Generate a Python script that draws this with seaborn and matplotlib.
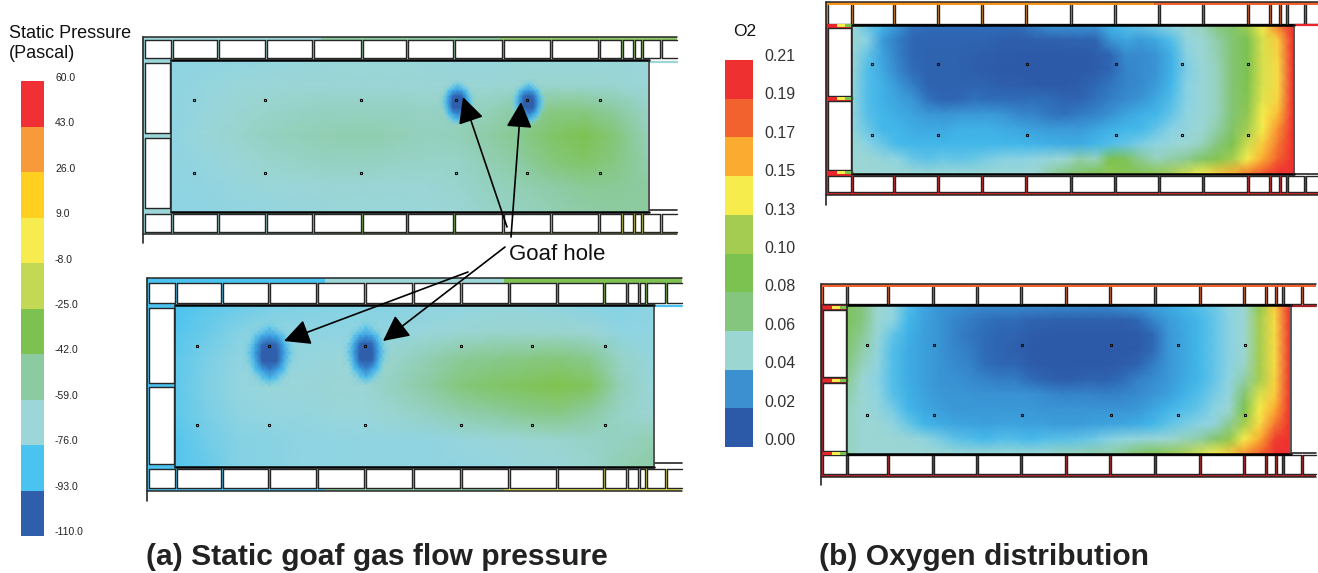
import numpy as np
import matplotlib
matplotlib.use("Agg")
import matplotlib.pyplot as plt
from matplotlib.colors import LinearSegmentedColormap, ListedColormap, Normalize
from matplotlib.patches import Rectangle
import seaborn as sns

W, H = 1318, 573

# colour keys, top to bottom
pressure_ticks = ["60.0", "43.0", "26.0", "9.0", "-8.0", "-25.0", "-42.0", "-59.0", "-76.0", "-93.0", "-110.0"]
pressure_colors = ["#F03035", "#F69A3A", "#FFD01F", "#F6EC4F", "#C3D955", "#7DC250", "#8CCBA1", "#9CD6D8", "#4AC3F0", "#2F5EAB"]
o2_ticks = ["0.21", "0.19", "0.17", "0.15", "0.13", "0.10", "0.08", "0.06", "0.04", "0.02", "0.00"]
o2_colors = ["#EE3030", "#F2622E", "#FBAC30", "#F6EC4C", "#A3CC50", "#7CC250", "#85C67F", "#9CD6D3", "#3C90D0", "#2D5AA8"]

# static pressure, Pascal
pressure_top = [
    [-72, -72, -71, -70, -69, -68, -68, -68, -68, -69, -69, -68, -68, -68, -68, -68],
    [-72, -70, -68, -67, -66, -66, -66, -66, -66, -66, -66, -65, -64, -64, -65, -67],
    [-72, -69, -66, -63, -61, -60, -60, -60, -61, -60, -57, -50, -44, -44, -50, -62],
    [-72, -68, -64, -60, -57, -55, -54, -56, -59, -57, -52, -46, -38, -33, -42, -58],
    [-72, -70, -67, -64, -62, -60, -60, -61, -62, -62, -56, -50, -42, -38, -44, -54],
    [-72, -71, -69, -68, -67, -66, -66, -66, -66, -64, -60, -56, -52, -48, -48, -50],
    [-72, -72, -71, -70, -69, -68, -68, -68, -67, -66, -62, -60, -56, -52, -50, -50],
]
pressure_bottom = [
    [-86, -82, -79, -76, -75, -74, -74, -73, -72, -71, -70, -70, -71, -73, -74, -72],
    [-84, -79, -74, -72, -72, -72, -72, -70, -68, -66, -64, -64, -64, -66, -72, -72],
    [-82, -76, -71, -68, -70, -68, -67, -62, -55, -48, -46, -44, -42, -46, -62, -70],
    [-82, -75, -70, -68, -68, -66, -66, -58, -50, -42, -38, -36, -32, -36, -58, -68],
    [-82, -76, -72, -70, -70, -68, -68, -64, -60, -54, -50, -46, -44, -50, -62, -66],
    [-84, -78, -74, -73, -72, -72, -71, -71, -71, -69, -68, -66, -64, -62, -60, -56],
    [-84, -80, -74, -73, -72, -72, -71, -71, -71, -71, -70, -68, -67, -64, -56, -52],
]
# pressure around one goaf hole
hole_pressure = [
    [-70, -70, -70, -70, -70, -70, -70, -70, -70],
    [-70, -70, -70, -74, -78, -74, -70, -70, -70],
    [-70, -70, -78, -86, -90, -86, -78, -70, -70],
    [-70, -74, -86, -98, -103, -98, -86, -74, -70],
    [-70, -76, -90, -104, -110, -104, -90, -76, -70],
    [-70, -74, -86, -100, -106, -100, -86, -74, -70],
    [-70, -70, -80, -90, -95, -90, -80, -70, -70],
    [-70, -70, -72, -78, -84, -78, -72, -70, -70],
    [-70, -70, -70, -70, -72, -70, -70, -70, -70],
]

# oxygen, in 0.01 units
o2_top = [
    [5, 3.5, 3, 2, 1.2, 1, 1, 1, 1, 1, 1, 1, 1.5, 2, 2, 2, 2, 3, 3.2, 3.5, 3.8, 4.5, 5, 5.5, 7, 8, 11, 13, 17, 21],
    [5, 4, 2.2, 1.4, .8, .6, .6, .6, .6, .5, .3, .3, .4, .4, .5, .6, .6, 2, 2.5, 2.2, 2.6, 3.2, 4.5, 5, 6, 7.5, 9, 12.3, 14, 21],
    [5, 3.5, 2.4, 1.5, .8, .5, .5, .5, .4, .3, .1, .1, 0, 0, 0, 0, .2, .8, 1.8, 1.8, 2, 2.8, 4, 5, 5.8, 7.5, 9, 12.3, 13.7, 21],
    [5, 3.2, 2.6, 1.7, 1, .5, .5, .5, .3, .1, 0, 0, 0, 0, 0, 0, .2, .8, 1.6, 1.8, 2, 2.8, 3.8, 4.8, 5.5, 7.5, 9, 12.3, 13.5, 21],
    [4.5, 3.2, 2.8, 2.1, 1.4, .5, .5, .5, .6, .5, .3, .2, .1, 0, 0, .3, .8, 1.3, 1.6, 1.8, 2.2, 3, 4, 4.8, 5.5, 7.5, 9.2, 12.3, 13.5, 21],
    [4.5, 3.2, 2.8, 2.4, 2, 1.2, .6, .8, 1.2, 1, 1, 1, 1.1, 1, .6, .6, 1.2, 1.5, 1.8, 2, 2.6, 3.2, 4, 4.8, 5.5, 7.5, 9.5, 12.5, 13.7, 21],
    [4.5, 3.3, 3, 2.7, 2.4, 2.1, 2, 2.1, 2.1, 2.2, 2, 1.7, 1.6, 1.3, 1.2, 1.4, 1.6, 1.9, 2.4, 2.8, 3, 3.5, 4.2, 4.8, 5.5, 7.5, 10, 13, 14.5, 21],
    [4.5, 3.6, 3, 3, 2.7, 2.6, 2.6, 2.8, 2.8, 2.8, 2.7, 2.5, 2.3, 2.2, 2.2, 2.2, 2.5, 2.8, 3, 3.1, 3.5, 4, 4.5, 5, 6, 8, 11, 13, 16, 21],
    [5, 4, 3.6, 3.1, 3, 3, 3, 3, 3, 3, 3, 3, 2.9, 2.8, 2.7, 2.7, 3, 3.2, 3.5, 3.8, 4.2, 4.6, 5, 5.5, 7, 9, 12, 14, 17, 21],
    [5, 5, 4.5, 4.2, 3.6, 3.4, 3.6, 3.5, 3.6, 3.8, 4, 4, 4.3, 4.6, 5, 6, 5.5, 9, 8.5, 6.5, 5.5, 6, 6.5, 8, 9.5, 11, 13, 15, 18, 21],
    [5, 5, 5, 5, 5, 5, 5, 5, 5, 5, 5, 5, 5, 6, 7, 8, 9, 10, 9.5, 9.5, 10, 11, 12, 13, 14, 15, 17, 19, 21, 21],
]
o2_bottom = [
    [8, 7, 5, 4.5, 3.2, 2.5, 2, 1.9, 1.8, 1.8, 1.8, 1.8, 1.8, 1.8, 1.8, 1.8, 1.8, 1.8, 2, 2.2, 2.4, 2.6, 3, 3.3, 3.6, 4.2, 5, 10, 14, 21],
    [8.5, 7, 5, 4.2, 3, 2.4, 2, 1.7, 1.4, 1.2, 1, 1, .6, .5, .4, .4, .4, .4, .4, .8, 1.6, 2.2, 2.6, 3, 3.5, 4, 5, 11, 13.5, 21],
    [8, 6.5, 4.8, 3.5, 2.8, 2.3, 2, 1.6, 1.3, 1, .7, .6, .2, .1, 0, 0, 0, 0, 0, .1, .8, 2, 2.5, 3, 3.5, 4, 5, 11, 13.5, 21],
    [7.5, 6, 4.5, 3.2, 2.7, 2.3, 2, 1.7, 1.4, 1, .6, .4, .1, 0, 0, 0, 0, 0, 0, .1, .9, 2, 2.5, 3, 3.5, 4, 5, 11, 13.5, 21],
    [7, 5.5, 4.3, 3.2, 2.7, 2.3, 2, 1.8, 1.6, 1.1, .8, .7, .2, 0, 0, 0, 0, 0, .2, .5, 1.4, 2, 2.5, 3, 3.5, 4, 5.2, 11, 13.5, 21],
    [6.5, 5, 4, 3.2, 2.7, 2.3, 2, 1.9, 1.8, 1.6, 1.4, 1.4, 1, .5, .3, .4, .5, .5, 1, 1.5, 1.8, 2.1, 2.6, 3, 3.5, 4.2, 6, 11, 13.7, 21],
    [6, 5, 4.2, 3.3, 2.8, 2.4, 2.1, 2, 2, 1.9, 1.9, 1.9, 1.9, 1.8, 1.6, 1.6, 1.6, 1.5, 1.6, 1.8, 2, 2.3, 2.8, 3.2, 3.7, 4.5, 7.5, 12.3, 14, 21],
    [5.5, 5, 4.5, 3.7, 3, 2.6, 2.3, 2.1, 2.1, 2.1, 2.1, 2.1, 2.1, 2, 2, 2, 2, 2, 2, 2.1, 2.5, 2.9, 3.2, 3.5, 4, 5, 9, 13, 15, 21],
    [5.5, 5, 5, 4.3, 3.6, 3, 2.7, 2.5, 2.4, 2.3, 2.4, 2.4, 2.3, 2.3, 2.2, 2.2, 2.3, 2.4, 2.5, 2.7, 3, 3.4, 3.7, 4, 4.5, 6.5, 11, 13.5, 17, 21],
    [5.5, 5, 5, 5, 4.8, 4.4, 3.8, 3.4, 3.2, 3.1, 3.2, 3.2, 3.1, 3.2, 3.3, 3.4, 3.6, 3.9, 4.2, 4.5, 4.8, 5, 5.5, 6, 7.5, 10, 13, 15, 20, 21],
    [5.5, 5, 5, 5, 5, 5, 5, 5, 5, 5, 5, 5, 5, 5, 5.5, 5.5, 6, 6, 6.5, 8, 9, 10, 11, 12, 13, 14, 16, 18, 21, 21],
]

# panel geometry in pixels of the original
panels = [
    dict(field=(171, 60, 648, 212), outer=(143, 677), top=(37, 40, 58), bottom=(214, 232, 234), tail=243,
         walls=[173, 219, 267, 314, 363, 408, 455, 504, 552, 600, 623, 635, 643, 662],
         side=[(63, 133), (138, 208)], right=(62, 210), strips=[],
         hx=[194, 265, 361, 456, 527, 600], hy=[100, 173], open_top=False,
         band_top=["#9CD6D8", "#8CCBA1", "#8FC86A"], band_bot=["#9CD6D8", "#7DC250", "#E0E050"], band_side="#9CD6D8"),
    dict(field=(175, 305, 653, 467), outer=(147, 682), top=(278, 283, 303), bottom=(469, 488, 491), tail=501,
         walls=[177, 223, 270, 318, 366, 414, 462, 510, 558, 605, 628, 640, 647, 667],
         side=[(308, 383), (387, 464)], right=(306, 463), strips=[],
         hx=[197, 269, 365, 461, 532, 605], hy=[346, 425], open_top=False,
         band_top=["#4AC3F0", "#9CD6D8", "#7DC250"], band_bot=["#4AC3F0", "#8CCBA1", "#E0E050"], band_side="#4AC3F0"),
    dict(field=(852, 25, 1293, 174), outer=(826, 1318), top=(2, 5, 24), bottom=(176, 192, 195), tail=205,
         walls=[853, 895, 939, 983, 1027, 1072, 1116, 1160, 1204, 1249, 1271, 1281, 1288, 1306],
         side=[(28, 96), (101, 170)], right=(25, 174), strips=[24, 97, 171],
         hx=[872, 938, 1027, 1116, 1182, 1248], hy=[64, 135], open_top=True,
         band_top=["#F7941E", "#F7941E", "#F2622E"], band_bot=["#E8262A", "#E8262A", "#E8262A"], band_side="#E8262A"),
    dict(field=(847, 305, 1290, 454), outer=(821, 1316), top=(284, 287, 304), bottom=(455, 474, 477), tail=485,
         walls=[848, 889, 934, 978, 1022, 1067, 1111, 1156, 1201, 1245, 1267, 1277, 1284, 1303],
         side=[(310, 377), (383, 451)], right=(306, 453), strips=[306, 379, 452],
         hx=[867, 934, 1022, 1111, 1178, 1245], hy=[345, 415], open_top=True,
         band_top=["#F2622E", "#F2622E", "#F2622E"], band_bot=["#C8232A", "#C8232A", "#C8232A"], band_side="#A52025"),
]
holes = [(439, 79, 476, 125), (510, 79, 547, 125), (241, 319, 298, 387), (342, 319, 390, 385)]
arrows = [((507, 227), (463, 97)), ((511, 237), (521, 102)), ((468, 272), (284, 341)), ((505, 247), (383, 341))]

sns.set_theme(style="white")
plt.rcParams["font.family"] = ["Liberation Sans", "DejaVu Sans"]

fig = plt.figure(figsize=(W / 100, H / 100), dpi=100, facecolor="white")


def px_axes(x0, y0, x1, y1, z=1):
    return fig.add_axes([x0 / W, 1 - y1 / H, (x1 - x0) / W, (y1 - y0) / H], zorder=z)


def field_map(values, box, cmap, norm, z=1):
    ax = px_axes(*box, z=z)
    values = np.array(values, dtype=float)
    sns.heatmap(values, ax=ax, cmap=cmap, norm=norm, cbar=False, xticklabels=False, yticklabels=False, shading="gouraud")
    ax.set_xlim(0, values.shape[1] - 1)
    ax.set_ylim(values.shape[0] - 1, 0)
    ax.patch.set_alpha(0)
    ax.axis("off")
    return ax


def colour_key(colors, box):
    ax = px_axes(*box)
    order = np.arange(len(colors)).reshape(-1, 1)
    sns.heatmap(order, ax=ax, cmap=ListedColormap(colors), cbar=False, xticklabels=False, yticklabels=False)
    ax.axis("off")


pressure_cmap = LinearSegmentedColormap.from_list("pressure", [
    ((v + 110) / 170, c) for v, c in [(-110, "#2F5EAB"), (-100, "#2F5EAB"), (-86, "#4AC3F0"), (-72, "#8FD4E2"), (-67, "#9CD6D8"),
                                       (-50, "#8CCBA1"), (-33, "#7DC250"), (-16, "#C3D955"), (0, "#F6EC4F"), (17, "#FFD01F"),
                                       (34, "#F69A3A"), (60, "#F03035")]])
pressure_norm = Normalize(-110, 60)
o2_cmap = LinearSegmentedColormap.from_list("o2", [
    (v / 21, c) for v, c in [(0, "#2D5AA8"), (1, "#2F6CB8"), (2, "#3A96D6"), (3, "#42B8EA"), (4, "#8CD3E3"), (5, "#9CD6D3"),
                              (7, "#85C67F"), (9, "#7CC250"), (11, "#A3CC50"), (13, "#F6EC4C"), (15, "#FBAC30"),
                              (18, "#F2622E"), (21, "#EE3030")]])
o2_norm = Normalize(0, 21)
hole_cmap = LinearSegmentedColormap.from_list("hole", [
    (0, "#2F5EAB"), (0.25, "#2F5EAB"), (0.5, "#3A9CE2"), (0.75, (0.29, 0.76, 0.94, 0.9)), (1, (0.55, 0.83, 0.87, 0))])
hole_norm = Normalize(-110, -70)

field_map(pressure_top, panels[0]["field"], pressure_cmap, pressure_norm)
field_map(pressure_bottom, panels[1]["field"], pressure_cmap, pressure_norm)
field_map(o2_top, panels[2]["field"], o2_cmap, o2_norm)
field_map(o2_bottom, panels[3]["field"], o2_cmap, o2_norm)
for box in holes:
    field_map(hole_pressure, box, hole_cmap, hole_norm, z=2)

colour_key(pressure_colors, (21, 81, 44, 536))
colour_key(o2_colors, (725, 60, 753, 447))

# everything else sits on one transparent canvas measured in pixels
canvas = px_axes(0, 0, W, H, z=5)
canvas.set_xlim(0, W)
canvas.set_ylim(H, 0)
canvas.patch.set_alpha(0)
canvas.axis("off")

DARK = "#262626"


def cell(x0, y0, x1, y1, open_top=False, open_right=False):
    canvas.add_patch(Rectangle((x0, y0), x1 - x0, y1 - y0, fc="white", ec="none", zorder=2))
    canvas.plot([x0, x0], [y0, y1], color=DARK, lw=1, zorder=2.5)
    canvas.plot([x0, x1], [y1, y1], color=DARK, lw=1, zorder=2.5)
    if not open_top:
        canvas.plot([x0, x1], [y0, y0], color=DARK, lw=1, zorder=2.5)
    if not open_right:
        canvas.plot([x1, x1], [y0, y1], color=DARK, lw=1, zorder=2.5)


def frame(p):
    fx0, fy0, fx1, fy1 = p["field"]
    ox0, ox1 = p["outer"]
    y_out, y_in, y_low = p["top"]
    by0, by1, by2 = p["bottom"]
    span = (ox1 - ox0) / 3
    # coloured channels behind the cells
    for i in range(3):
        x = ox0 + i * span
        canvas.add_patch(Rectangle((x, y_out), span, y_low - y_out, fc=p["band_top"][i], ec="none", zorder=1))
        canvas.add_patch(Rectangle((x, by0), span, by2 - by0, fc=p["band_bot"][i], ec="none", zorder=1))
    canvas.add_patch(Rectangle((ox0, y_out), fx0 - ox0, by2 - y_out, fc=p["band_side"], ec="none", zorder=0.9))
    walls = p["walls"]
    for y0, y1, no_top in [(y_in, y_low, p["open_top"]), (by0, by1, False)]:
        cell(ox0 + 2, y0, walls[0] - 2, y1, open_top=no_top)
        for a, b in zip(walls[:-1], walls[1:]):
            cell(a, y0, b - 2, y1, open_top=no_top)
        cell(walls[-1], y0, ox1, y1, open_top=no_top, open_right=True)
    for a, b in p["side"]:
        cell(ox0 + 2, a, fx0 - 1, b)
    for y in p["strips"]:
        w = (fx0 - ox0) / 3
        for i, c in enumerate(["#E8262A", "#F6EC4C", "#7CC250"]):
            canvas.add_patch(Rectangle((ox0 + 2 + i * w, y), w, 3, fc=c, ec="none", zorder=3))
    # white gap on the right of the field
    canvas.add_patch(Rectangle((fx1 + 2, p["right"][0]), ox1 - fx1, p["right"][1] - p["right"][0], fc="white", ec="none", zorder=3))
    canvas.plot([fx1 + 2, ox1], [p["right"][0]] * 2, color=p["band_side"], lw=1.6, zorder=3)
    canvas.plot([fx1 + 2, ox1], [p["right"][1]] * 2, color=DARK, lw=1.2, zorder=3)
    # dark outlines
    canvas.plot([ox0, ox1], [y_out, y_out], color=DARK, lw=1.1, zorder=4)
    canvas.plot([ox0, ox1], [by2, by2], color=DARK, lw=1.1, zorder=4)
    canvas.plot([ox0, ox0], [y_out, p["tail"]], color=DARK, lw=1.2, zorder=4)
    canvas.plot([fx0, fx1 + 1], [fy0, fy0], color="black", lw=1.8, zorder=4)
    canvas.plot([fx0, fx1 + 1], [fy1, fy1], color="black", lw=1.8, zorder=4)
    canvas.plot([fx0, fx0], [fy0, fy1], color=DARK, lw=1.1, zorder=4)
    canvas.plot([fx1 + 1, fx1 + 1], [fy0, fy1], color=DARK, lw=1.1, zorder=4)
    xs = [x for x in p["hx"] for _ in p["hy"]]
    ys = [y for _ in p["hx"] for y in p["hy"]]
    canvas.scatter(xs, ys, s=4, marker="s", facecolor="none", edgecolor="#111111", linewidth=0.8, zorder=5)


for p in panels:
    frame(p)

canvas.text(9, 34, "Static Pressure", fontsize=13, color="#111111", va="center", ha="left")
canvas.text(9, 54, "(Pascal)", fontsize=13, color="#111111", va="center", ha="left")
for i, t in enumerate(pressure_ticks):
    canvas.text(55, 78 + i * 45.4, t, fontsize=7.5, color="#222222", va="center", ha="left",
                family=["Liberation Sans Narrow", "Liberation Sans"])
canvas.text(733, 32, "O2", fontsize=12.5, color="#111111", va="center", ha="left")
for i, t in enumerate(o2_ticks):
    canvas.text(764, 56.5 + i * 38.4, t, fontsize=11.5, color="#333333", va="center", ha="left")

canvas.text(509, 255, "Goaf hole", fontsize=16, color="#111111", va="center", ha="left")
canvas.text(146, 557, "(a) Static goaf gas flow pressure", fontsize=21.6, fontweight="bold", color="#222222", va="center", ha="left")
canvas.text(819, 557, "(b) Oxygen distribution", fontsize=21.6, fontweight="bold", color="#222222", va="center", ha="left")

for tail, tip in arrows:
    canvas.annotate("", xy=tip, xytext=tail, zorder=8,
                    arrowprops=dict(arrowstyle="-|>,head_length=0.8,head_width=0.4", mutation_scale=20, lw=1.2,
                                    color="black", shrinkA=0, shrinkB=0))

fig.savefig("out.png", dpi=100)
